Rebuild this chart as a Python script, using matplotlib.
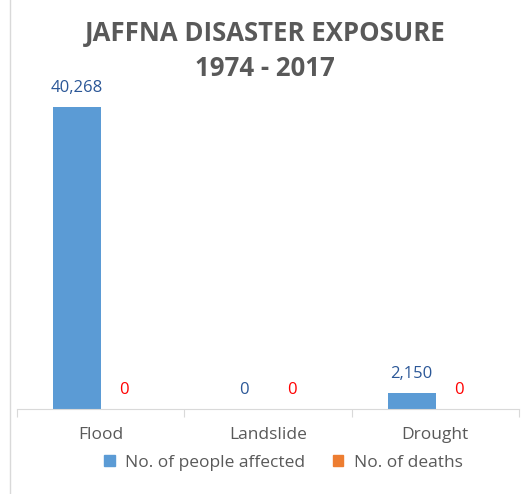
import matplotlib.pyplot as plt
import numpy as np
from matplotlib.lines import Line2D
from matplotlib.patches import Patch

categories = ['Flood', 'Landslide', 'Drought']
people_affected = [40268, 0, 2150]
deaths = [0, 0, 0]

blue = '#5B9BD5'
orange = '#ED7D31'
grey = '#595959'

plt.rcParams['font.family'] = ['Open Sans', 'DejaVu Sans']

fig = plt.figure(figsize=(5.3, 4.94), dpi=100)
ax = fig.add_axes([17 / 530, 1 - 409 / 494, 502 / 530, 329 / 494])

x = np.arange(len(categories))
w = 0.287
off = 0.141
ax.bar(x - off, people_affected, w, color=blue)
ax.bar(x + off, deaths, w, color=orange)

for xi, v in zip(x, people_affected):
    ax.text(xi - off, v + 1500, f'{v:,}', ha='center', va='bottom',
            color='#2B5797', fontsize=12)
for xi, v in zip(x, deaths):
    ax.text(xi + off, v + 1500, f'{v:,}', ha='center', va='bottom',
            color='#FF0000', fontsize=12)

ax.set_xlim(-0.5, 2.5)
ax.set_ylim(0, 43870)
ax.set_yticks([])
for s in ['top', 'right', 'left']:
    ax.spines[s].set_visible(False)
ax.spines['bottom'].set_color('#D9D9D9')
ax.set_xticks([-0.5, 0.5, 1.5, 2.5])
ax.set_xticklabels([])
ax.set_xticks(x, minor=True)
ax.set_xticklabels(categories, minor=True)
ax.tick_params(axis='x', which='major', length=6, color='#D9D9D9')
ax.tick_params(axis='x', which='minor', length=0, pad=13, labelsize=12.5,
               labelcolor=grey)

fig.text(0.5, 1 - 51 / 494, 'JAFFNA DISASTER EXPOSURE\n1974 - 2017',
         ha='center', va='center', fontsize=18.5, fontweight='bold',
         color=grey, linespacing=1.35)

handles = [Patch(color=blue), Patch(color=orange)]
fig.legend(handles, ['No. of people affected', 'No. of deaths'],
           loc='center', bbox_to_anchor=(0.535, 1 - 463 / 494), ncol=2,
           frameon=False, fontsize=12.5, labelcolor=grey,
           handlelength=0.6, handleheight=0.6, handletextpad=0.6,
           columnspacing=1.6)

fig.add_artist(Line2D([10 / 530, 10 / 530], [0, 1], color='#D9D9D9',
                      lw=1, transform=fig.transFigure))

fig.savefig('out.png', dpi=100)
